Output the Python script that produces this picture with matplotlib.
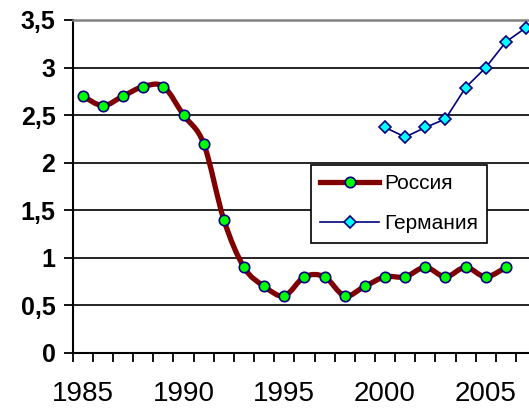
import matplotlib
matplotlib.use("Agg")
import matplotlib.pyplot as plt
import numpy as np
from matplotlib.path import Path
from matplotlib.patches import PathPatch
from matplotlib.lines import Line2D

plt.rcParams['font.family'] = ['Liberation Sans', 'DejaVu Sans']

# data
years_ru = list(range(1985, 2007))
russia = [2.7, 2.6, 2.7, 2.8, 2.8, 2.5, 2.2, 1.4, 0.9, 0.7, 0.6,
          0.8, 0.8, 0.6, 0.7, 0.8, 0.8, 0.9, 0.8, 0.9, 0.8, 0.9]
years_de = list(range(2000, 2008))
germany = [2.37, 2.27, 2.37, 2.46, 2.79, 3.0, 3.27, 3.42]
yticks = [0, 0.5, 1, 1.5, 2, 2.5, 3, 3.5]
ylabels = ['0', '0,5', '1', '1,5', '2', '2,5', '3', '3,5']
xlabel_years = [1985, 1990, 1995, 2000, 2005]

RED = '#800000'
NAVY = '#000080'


def smooth_path(x, y):
    # catmull-rom style bezier, like excel "smoothed line"
    x = np.asarray(x, float)
    y = np.asarray(y, float)
    verts = [(x[0], y[0])]
    codes = [Path.MOVETO]
    n = len(x)
    for i in range(n - 1):
        p0 = (x[max(i - 1, 0)], y[max(i - 1, 0)])
        p1 = (x[i], y[i])
        p2 = (x[i + 1], y[i + 1])
        p3 = (x[min(i + 2, n - 1)], y[min(i + 2, n - 1)])
        c1 = (p1[0] + (p2[0] - p0[0]) / 6, p1[1] + (p2[1] - p0[1]) / 6)
        c2 = (p2[0] - (p3[0] - p1[0]) / 6, p2[1] - (p3[1] - p1[1]) / 6)
        verts += [c1, c2, p2]
        codes += [Path.CURVE4] * 3
    return Path(verts, codes)


fig = plt.figure(figsize=(5.29, 4.08), dpi=100)
ax = fig.add_axes([0.1375, 0.135, 0.876, 0.816])

ax.set_xlim(1984.5, 2007.5)
ax.set_ylim(0, 3.5)

# grid
for v in yticks[1:-1]:
    ax.axhline(v, color='black', lw=1.2, zorder=1)

ax.add_patch(PathPatch(smooth_path(years_ru, russia), facecolor='none',
                       edgecolor=RED, lw=3.8, capstyle='round',
                       joinstyle='round', zorder=3))
ax.plot(years_ru, russia, ls='none', marker='o', ms=7.5, mfc='#00FF00',
        mec=NAVY, mew=1.2, zorder=4, clip_on=False)
ax.plot(years_de, germany, color=NAVY, lw=1.2, marker='D', ms=6.5,
        mfc='#00FFFF', mec=NAVY, mew=1.2, zorder=4, clip_on=False)

# axes styling
ax.spines['right'].set_visible(False)
ax.spines['top'].set_color('#808080')
ax.spines['top'].set_linewidth(1.8)
ax.spines['left'].set_linewidth(1.5)
ax.spines['bottom'].set_linewidth(1.5)

ax.set_yticks(yticks)
ax.set_yticklabels(ylabels, fontsize=18, fontweight='bold')
ax.tick_params(axis='y', direction='out', length=6.5, width=1.3, pad=6)

ax.set_xticks(np.arange(1984.5, 2008, 1.0))
ax.set_xticklabels([])
ax.tick_params(axis='x', which='major', direction='out', length=6.5,
               width=1.3)
ax.set_xticks(xlabel_years, minor=True)
ax.set_xticklabels([str(y) for y in xlabel_years], minor=True, fontsize=20)
ax.tick_params(axis='x', which='minor', length=0, pad=20)

handles = [
    Line2D([], [], color=RED, lw=3.8, marker='o', ms=7.5, mfc='#00FF00',
           mec=NAVY, mew=1.2),
    Line2D([], [], color=NAVY, lw=1.2, marker='D', ms=6.5, mfc='#00FFFF',
           mec=NAVY, mew=1.2),
]
leg = ax.legend(handles, ['Россия', 'Германия'], loc='upper left',
                bbox_to_anchor=(311 / 529, 1 - 165 / 408),
                bbox_transform=fig.transFigure, fontsize=15, numpoints=1,
                handlelength=2.8, handletextpad=0.25, borderpad=0.45,
                labelspacing=1.0, fancybox=False, framealpha=1,
                edgecolor='black', borderaxespad=0)
leg.get_frame().set_linewidth(1.2)

fig.savefig('out.png', dpi=100)
